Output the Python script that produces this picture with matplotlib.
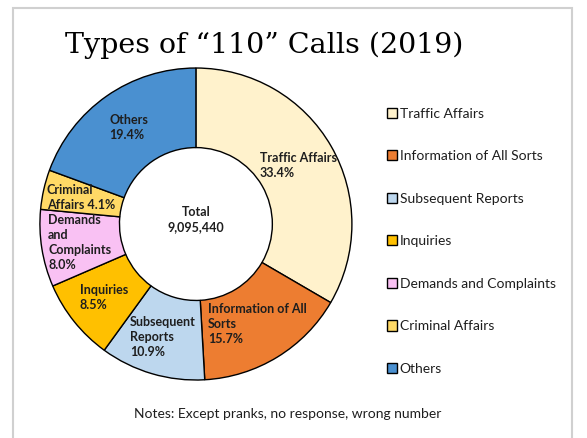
import numpy as np
import matplotlib.pyplot as plt
from matplotlib.patches import Rectangle

categories = ["Traffic Affairs", "Information of All Sorts", "Subsequent Reports",
              "Inquiries", "Demands and Complaints", "Criminal Affairs", "Others"]
shares = [33.4, 15.7, 10.9, 8.5, 8.0, 4.1, 19.4]
slice_labels = ["Traffic Affairs\n{}", "Information of All\nSorts\n{}", "Subsequent\nReports\n{}",
                "Inquiries\n{}", "Demands\nand\nComplaints\n{}", "Criminal\nAffairs {}", "Others\n{}"]
colors = ["#FFF2CC", "#ED7D31", "#BDD7EE", "#FFC000", "#F9C1F3", "#FFD966", "#4A90D0"]
total = "9,095,440"

font = "Lato"

fig = plt.figure(figsize=(5.87, 4.38), dpi=100)

# light grey frame around the chart area
fig.add_artist(Rectangle((13 / 587, -0.1), (572 - 13) / 587, 1.1 - 8 / 438,
                         transform=fig.transFigure, fill=False,
                         edgecolor="#D0D0D0", linewidth=1.5))

ax = fig.add_axes([0.068, 0.1324, 0.5315, 0.7123])
wedges, _ = ax.pie(shares, colors=colors, startangle=90, counterclock=False,
                   radius=1, wedgeprops=dict(width=0.51, edgecolor="black", linewidth=1.0))
ax.set_xlim(-1, 1)
ax.set_ylim(-1, 1)
ax.set_aspect("equal")
ax.axis("off")

for w, lab, v in zip(wedges, slice_labels, shares):
    ang = np.deg2rad((w.theta1 + w.theta2) / 2)
    r = 0.755
    ax.text(r * np.cos(ang), r * np.sin(ang), lab.format(f"{v:.1f}%"),
            ha="center", va="center", multialignment="left",
            fontsize=9, fontweight="bold", color="#1E1E1E",
            family=font, linespacing=1.3)

ax.text(0, 0.03, "Total\n" + total, ha="center", va="center",
        fontsize=9, fontweight="bold", color="#1E1E1E", family=font,
        linespacing=1.3)

fig.text(65 / 587, 1 - 45 / 438, "Types of \u201c110\u201d Calls (2019)",
         ha="left", va="center", fontsize=20.5, family="DejaVu Serif")

fig.legend(wedges, categories, loc="upper left",
           bbox_to_anchor=(374 / 587, 1 - 95 / 438), frameon=False,
           prop=dict(family=font, size=10), labelspacing=2.2,
           handlelength=0.75, handleheight=0.75, handletextpad=0.2,
           labelcolor="#1E1E1E")

fig.text(288 / 587, 1 - 414 / 438, "Notes: Except pranks, no response, wrong number",
         ha="center", va="center", fontsize=10, family=font, color="#1E1E1E")

fig.savefig("out.png", dpi=100)
